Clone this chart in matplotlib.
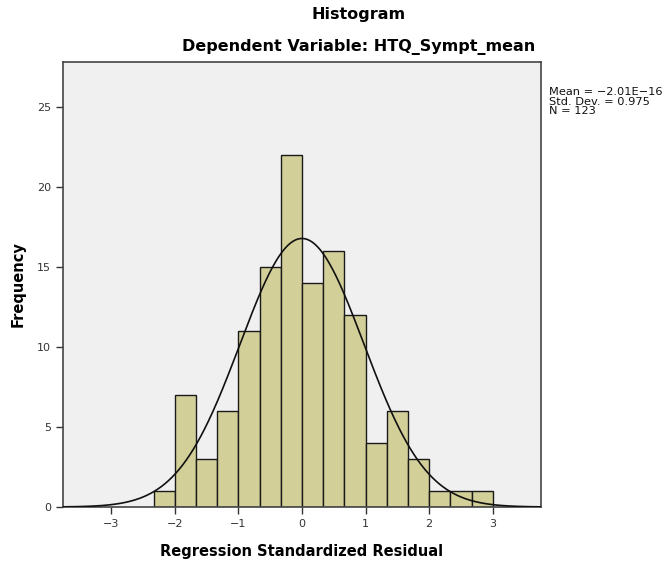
import numpy as np
import matplotlib.pyplot as plt

# Histogram bins (regression standardized residuals) and counts
bin_edges = [-7/3, -2, -5/3, -4/3, -1, -2/3, -1/3, 0, 1/3, 2/3, 1, 4/3, 5/3, 2, 7/3, 8/3, 3]
counts = [1, 7, 3, 6, 11, 15, 22, 14, 16, 12, 4, 6, 3, 1, 1, 1]

mean = -2.01e-16
std_dev = 0.975
n = 123

x_ticks = [-3, -2, -1, 0, 1, 2, 3]
y_ticks = [0, 5, 10, 15, 20, 25]

edges = np.array(bin_edges)
widths = np.diff(edges)

fig = plt.figure(figsize=(6.65, 5.64), dpi=100)
ax = fig.add_axes([63/665, 1 - 507/564, (541-63)/665, (507-62)/564])
ax.set_facecolor('#f0f0f0')

ax.bar(edges[:-1], counts, width=widths, align='edge',
       color='#d3cf98', edgecolor='#1a1a1a', linewidth=1.0, zorder=2)

# normal curve scaled to counts
xs = np.linspace(-3.76, 3.76, 400)
bw = widths[0]
ys = n * bw * np.exp(-0.5 * ((xs - mean) / std_dev) ** 2) / (std_dev * np.sqrt(2 * np.pi))
ax.plot(xs, ys, color='#111111', linewidth=1.2, zorder=3)

ax.set_xlim(-3.76, 3.76)
ax.set_ylim(0, 27.8)
ax.set_xticks(x_ticks)
ax.set_xticklabels(['\u22123', '\u22122', '\u22121', '0', '1', '2', '3'])
ax.set_yticks(y_ticks)
ax.tick_params(axis='both', direction='out', length=5, width=1,
               color='#333333', labelsize=8, labelcolor='#333333')
for s in ax.spines.values():
    s.set_color('#444444')
    s.set_linewidth(1.2)

ax.set_xlabel('Regression Standardized Residual', fontsize=10.5, fontweight='bold', labelpad=11)
ax.set_ylabel('Frequency', fontsize=10.5, fontweight='bold', labelpad=8)

fig.text(359/665, 1 - 15/564, 'Histogram', ha='center', va='center',
         fontsize=11.5, fontweight='bold')
fig.text(359/665, 1 - 47/564, 'Dependent Variable: HTQ_Sympt_mean', ha='center', va='center',
         fontsize=11.5, fontweight='bold')

fig.text(549/665, 1 - 87/564,
         'Mean = \u22122.01E\u221216\nStd. Dev. = 0.975\nN = 123',
         ha='left', va='top', fontsize=8.2, linespacing=0.95, color='#111111')

fig.savefig('out.png', dpi=100)
